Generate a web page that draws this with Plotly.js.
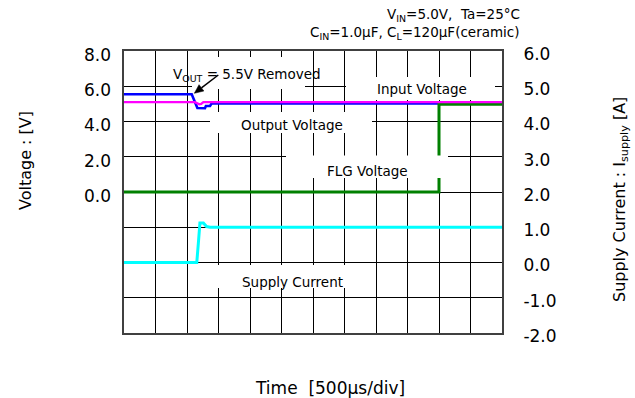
<!DOCTYPE html>
<html>
<head>
<meta charset="utf-8">
<script src="https://cdn.plot.ly/plotly-3.0.1.min.js"></script>
<style>html,body{margin:0;padding:0;background:#fff;}#chart{width:635px;height:398px;}</style>
</head>
<body>
<div id="chart"></div>
<script>
// ---- data (time in µs, 500 µs/div) ----
const voutTime = [0, 1075, 1165, 1285, 1300, 1365, 1390, 6000];
const voutVolt = [5.55, 5.55, 4.77, 4.75, 4.88, 4.88, 5.02, 5.02];

const vinTime = [0, 1125, 1195, 1225, 1260, 6000];
const vinVolt = [5.1, 5.1, 4.98, 5.0, 5.1, 5.1];

const flgTime = [0, 5000, 5000, 6000];
const flgVolt = [0, 0, 4.98, 4.98];

const isupTime = [0, 1155, 1180, 1195, 1205, 1260, 1285, 1310, 1365, 6000];
const isupAmp  = [0, 0, 0.54, 0.91, 1.12, 1.12, 1.06, 1.02, 1.0, 1.0];

const voltTickVals = [0, 2, 4, 6, 8];
const voltTickText = ['0.0', '2.0', '4.0', '6.0', '8.0'];
const currTickVals = [-2, -1, 0, 1, 2, 3, 4, 5, 6];
const currTickText = ['-2.0', '-1.0', '0.0', '1.0', '2.0', '3.0', '4.0', '5.0', '6.0'];

// ---- layout helpers (pixel -> paper) ----
const L = 124, R = 133, T = 51, B = 65, W = 635, H = 398;
const PW = W - L - R, PH = H - T - B;
const px = x => (x - L) / PW;
const py = y => (H - B - y) / PH;
const FONT = '"DejaVu Sans", "Liberation Sans", Arial, sans-serif';

// current on the main axis (carries the grid), voltages on the overlay axis
const traces = [
  {x: isupTime, y: isupAmp, type: 'scatter', mode: 'lines', line: {color: '#00FFFF', width: 3}, yaxis: 'y', hoverinfo: 'skip'},
  {x: voutTime, y: voutVolt, type: 'scatter', mode: 'lines', line: {color: '#0000FF', width: 2.6}, yaxis: 'y2', hoverinfo: 'skip'},
  {x: flgTime, y: flgVolt, type: 'scatter', mode: 'lines', line: {color: '#008000', width: 3}, yaxis: 'y2', hoverinfo: 'skip'},
  {x: vinTime, y: vinVolt, type: 'scatter', mode: 'lines', line: {color: '#FF00FF', width: 2.4}, yaxis: 'y2', hoverinfo: 'skip'}
];

function box(x0, x1, y0, y1) {
  return {type: 'rect', xref: 'paper', yref: 'paper', x0: px(x0), x1: px(x1), y0: py(y1), y1: py(y0),
          fillcolor: '#FFFFFF', line: {width: 0}, layer: 'above'};
}
function label(text, x, y, size, anchor) {
  return {text: text, xref: 'paper', yref: 'paper', x: px(x), y: py(y), showarrow: false,
          xanchor: anchor || 'center', yanchor: 'middle', font: {family: FONT, size: size || 13.5, color: '#000'}};
}

// arrow (tail -> head), drawn as shapes
const tail = [218.3, 75], head = [194.3, 93.3];
const dx = head[0] - tail[0], dy = head[1] - tail[1], len = Math.hypot(dx, dy);
const ux = dx / len, uy = dy / len, nx = -uy, ny = ux;
const hl = 9, hw = 4;
const bx = head[0] - hl * ux, by = head[1] - hl * uy;
const c1 = [bx + hw * nx, by + hw * ny], c2 = [bx - hw * nx, by - hw * ny];
const arrowPath = 'M ' + px(head[0]) + ',' + py(head[1]) + ' L ' + px(c1[0]) + ',' + py(c1[1]) +
                  ' L ' + px(c2[0]) + ',' + py(c2[1]) + ' Z';

const layout = {
  width: W, height: H,
  margin: {l: L, r: R, t: T, b: B, pad: 0},
  paper_bgcolor: '#fff', plot_bgcolor: '#fff',
  showlegend: false,
  font: {family: FONT, color: '#000'},
  xaxis: {range: [0, 6000], dtick: 500, tick0: 0, showticklabels: false, ticks: '',
          showgrid: true, gridcolor: '#000', gridwidth: 1, zeroline: false,
          showline: true, mirror: true, linecolor: '#404040', linewidth: 2},
  yaxis: {range: [-2, 6], side: 'right', tickmode: 'array', tickvals: currTickVals, ticktext: currTickText, ticks: '',
          showgrid: true, gridcolor: '#000', gridwidth: 1, zeroline: false,
          showline: true, mirror: true, linecolor: '#404040', linewidth: 2,
          tickfont: {family: FONT, size: 17, color: '#000'}, ticklabelstandoff: 16, ticklabelshift: 3},
  yaxis2: {range: [-8, 8], overlaying: 'y', side: 'left', tickmode: 'array', tickvals: voltTickVals, ticktext: voltTickText,
           ticks: '', showgrid: false, zeroline: false, showline: false,
           tickfont: {family: FONT, size: 17, color: '#000'}, ticklabelstandoff: 12, ticklabelshift: 4},
  shapes: [
    box(192, 305, 57, 89),
    box(346, 495, 77, 100),
    box(210, 372, 112, 133),
    box(286, 448, 155.5, 178),
    box(210, 372, 265, 288),
    {type: 'line', xref: 'paper', yref: 'paper', x0: px(tail[0]), y0: py(tail[1]), x1: px(bx), y1: py(by),
     line: {color: '#000', width: 1.5}, layer: 'above'},
    {type: 'path', xref: 'paper', yref: 'paper', path: arrowPath, fillcolor: '#000', line: {color: '#000', width: 0.5}, layer: 'above'}
  ],
  annotations: [
    label('V<sub>IN</sub>=5.0V,  Ta=25°C', 522, 15, 13.5, 'right'),
    label('C<sub>IN</sub>=1.0µF, C<sub>L</sub>=120µF(ceramic)', 522, 33, 13.5, 'right'),
    label('V<sub>OUT</sub> = 5.5V Removed', 247, 75, 13.5),
    label('Input Voltage', 422, 89, 13.5),
    label('Output Voltage', 292, 125, 13.5),
    label('FLG Voltage', 367.5, 171, 13.5),
    label('Supply Current', 292, 282, 13.5),
    Object.assign(label('Voltage : [V]', 25, 161, 16), {textangle: -90}),
    Object.assign(label('Supply Current : I<sub>supply</sub> [A]', 620, 200, 16), {textangle: -90}),
    label('Time  [500µs/div]', 330, 388, 17)
  ]
};

Plotly.newPlot('chart', traces, layout, {displayModeBar: false});
</script>
</body>
</html>
